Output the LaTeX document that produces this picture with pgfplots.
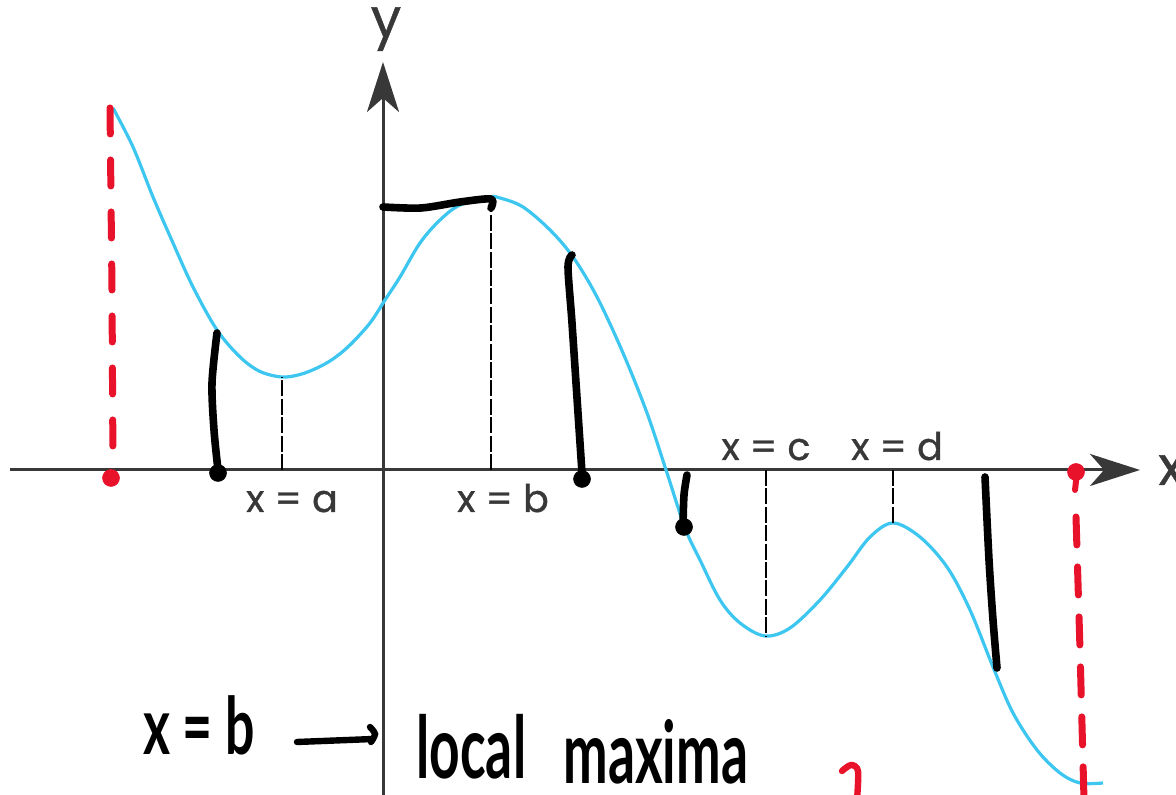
\documentclass[border=0pt]{standalone}
\usepackage{pgfplots}
\pgfplotsset{compat=1.18}
\usetikzlibrary{arrows.meta}
\usepackage{graphicx}
\usepackage{fontspec}
\newfontfamily\labelfont{Poppins}[FakeBold=0.8]
\newfontfamily\handfont{Lato}
\definecolor{curveblue}{HTML}{3CC6F0}
\definecolor{markred}{HTML}{E8132A}
\definecolor{axisgray}{HTML}{383838}

\begin{document}
\begin{tikzpicture}
\begin{axis}[
  x=50pt, y=50pt,
  axis lines=middle,
  xmin=-3.73, xmax=7.57, ymin=-3.25, ymax=4.08,
  xtick=\empty, ytick=\empty,
  axis line style={draw=axisgray, line width=1.5pt,
    -{Stealth[length=25pt,width=16pt,inset=7pt]}},
  clip=false,
]
% page corners
\coordinate (bl) at (axis cs:-3.83,-3.25);
\coordinate (tr) at (axis cs:7.93,4.70);

% the function
\addplot[curveblue, line width=1.6pt, smooth, tension=0.55] coordinates {
  (-2.70,3.62) (-2.50,3.23) (-2.30,2.73) (-2.10,2.27) (-1.90,1.83)
  (-1.66,1.40) (-1.43,1.13) (-1.23,0.985) (-1.01,0.93) (-0.83,0.955)
  (-0.66,1.02) (-0.50,1.11) (-0.33,1.25) (-0.13,1.47) (0.02,1.70)
  (0.17,1.93) (0.37,2.27) (0.57,2.50) (0.77,2.65) (1.06,2.73)
  (1.17,2.72) (1.40,2.63) (1.67,2.40) (1.90,2.13) (2.14,1.73)
  (2.40,1.17) (2.64,0.57) (2.84,-0.03) (3.02,-0.58) (3.17,-0.90)
  (3.37,-1.30) (3.57,-1.53) (3.82,-1.66) (4.07,-1.58) (4.37,-1.30)
  (4.64,-0.97) (4.87,-0.67) (5.10,-0.53) (5.37,-0.67) (5.64,-0.97)
  (5.87,-1.40) (6.10,-1.97) (6.30,-2.43) (6.54,-2.80) (6.77,-3.03)
  (6.97,-3.13) (7.20,-3.13)};

% critical points
\addplot[black, line width=1pt, dash pattern=on 8pt off 1.2pt] coordinates {(-1.01,0) (-1.01,0.93)};
\addplot[black, line width=1pt, dash pattern=on 8pt off 1.2pt] coordinates {(1.08,0) (1.08,2.71)};
\addplot[black, line width=1pt, dash pattern=on 8pt off 1.2pt] coordinates {(3.83,0) (3.83,-1.66)};
\addplot[black, line width=1pt, dash pattern=on 8pt off 1.2pt] coordinates {(5.10,0) (5.10,-0.53)};

% marker strokes
\addplot[black, line width=3.8pt, line cap=round, smooth] coordinates {(-1.66,1.37) (-1.71,0.87) (-1.69,0.40) (-1.65,0.0)};
\addplot[black, line width=3.8pt, line cap=round, line join=round, smooth] coordinates {(0,2.63) (0.38,2.62) (0.77,2.68) (1.08,2.71) (1.08,2.62)};
\addplot[black, line width=3.8pt, line cap=round, smooth] coordinates {(1.89,2.15) (1.85,2.03) (1.89,1.47) (1.95,0.57) (1.99,-0.03)};
\addplot[black, line width=3.8pt, line cap=round, smooth] coordinates {(3.04,-0.05) (3.01,-0.25) (3.00,-0.55)};
\addplot[black, line width=3.8pt, line cap=round, smooth] coordinates {(6.02,-0.07) (6.06,-0.90) (6.10,-1.50) (6.14,-1.98)};
\addplot[black, only marks, mark=*, mark size=4.2pt] coordinates {(-1.65,-0.03) (1.99,-0.09) (3.01,-0.57)};

% domain bounds
\addplot[markred, line width=3.5pt, line cap=round, dash pattern=on 13pt off 13pt] coordinates {(-2.73,3.62) (-2.71,1.8) (-2.70,0.0)};
\addplot[markred, line width=3.5pt, line cap=round, dash pattern=on 14pt off 11pt] coordinates {(6.93,-0.47) (6.97,-1.8) (7.01,-3.30)};
\addplot[markred, only marks, mark=*, mark size=4.2pt] coordinates {(-2.72,-0.08) (6.93,-0.02)};
\addplot[markred, line width=3pt, line cap=round] coordinates {(6.94,-0.02) (6.92,-0.20)};
\addplot[markred, line width=3.2pt, line cap=round, smooth] coordinates {(4.59,-3.01) (4.68,-2.95) (4.75,-3.01) (4.74,-3.30)};

% handwritten arrow
\addplot[black, line width=3.2pt, line cap=round, smooth] coordinates {(-0.86,-2.72) (-0.35,-2.70) (-0.10,-2.69)};
\addplot[black, line width=3.2pt, line cap=round, smooth] coordinates {(-0.13,-2.57) (-0.08,-2.64) (-0.12,-2.72)};

% labels
\node[anchor=base, text=axisgray, font=\labelfont\fontsize{19}{22}\selectfont] at (axis cs:-0.91,-0.42) {x = a};
\node[anchor=base, text=axisgray, font=\labelfont\fontsize{19}{22}\selectfont] at (axis cs:1.20,-0.42) {x = b};
\node[anchor=base, text=axisgray, font=\labelfont\fontsize{19}{22}\selectfont] at (axis cs:3.83,0.10) {x = c};
\node[anchor=base, text=axisgray, font=\labelfont\fontsize{19}{22}\selectfont] at (axis cs:5.14,0.10) {x = d};
\node[anchor=base, text=axisgray, font=\labelfont\fontsize{27}{30}\selectfont] at (axis cs:0.03,4.33) {y};
\node[anchor=base west, text=axisgray, font=\labelfont\fontsize{27}{30}\selectfont, inner sep=0pt] at (axis cs:7.75,-0.15) {x};

\node[anchor=base, font=\handfont\bfseries\fontsize{36}{40}\selectfont] at (axis cs:-1.84,-2.85) {\scalebox{0.72}[1.1]{x = b}};
\node[anchor=base west, inner sep=0pt, font=\handfont\bfseries\fontsize{36}{40}\selectfont] at (axis cs:0.33,-3.09) {\scalebox{0.74}[1.2]{local}};
\node[anchor=base west, inner sep=0pt, font=\handfont\bfseries\fontsize{36}{40}\selectfont] at (axis cs:1.80,-3.14) {\scalebox{0.74}[1.2]{maxima}};
\end{axis}
\pgfresetboundingbox
\path[use as bounding box] (bl) rectangle (tr);
\end{tikzpicture}
\end{document}
